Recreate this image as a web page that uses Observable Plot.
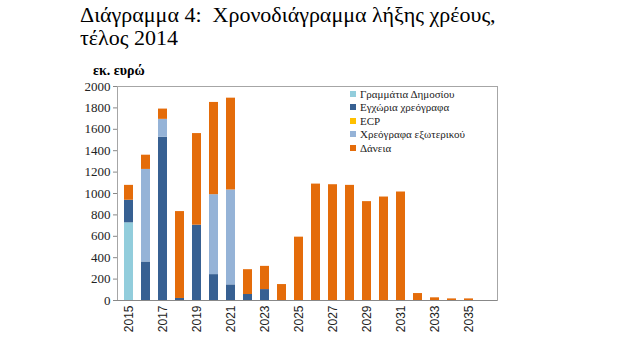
<!DOCTYPE html>
<html>
<head>
<meta charset="utf-8">
<script src="https://cdn.jsdelivr.net/npm/d3@7"></script>
<script src="https://cdn.jsdelivr.net/npm/@observablehq/plot@0.6"></script>
<style>
  body { margin: 0; background: #fff; }
  #wrap { position: relative; width: 640px; height: 350px; overflow: hidden; background: #fff; }
  #title { position: absolute; left: 80px; top: 3px; font-family: "Liberation Serif", serif; font-size: 22px; line-height: 23px; color: #000; z-index: 2; }
  #unit { position: absolute; left: 93px; top: 63px; font-family: "Liberation Serif", serif; font-size: 14px; font-weight: bold; color: #000; z-index: 2; }
  #chart { position: absolute; left: 0; top: 60px; z-index: 1; }
  #legend { position: absolute; left: 350px; top: 87px; font-family: "Liberation Serif", serif; font-size: 11px; color: #222; z-index: 2; }
  #legend .row { display: flex; align-items: center; height: 13.5px; }
  #legend .sw { width: 6px; height: 6px; margin-right: 4px; }
</style>
</head>
<body>
<div id="wrap">
  <div id="title">Διάγραμμα 4:&nbsp; Χρονοδιάγραμμα λήξης χρέους,<br>τέλος 2014</div>
  <div id="unit">εκ. ευρώ</div>
  <div id="chart"></div>
  <div id="legend"></div>
</div>
<script>
const years = [2015,2016,2017,2018,2019,2020,2021,2022,2023,2024,2025,2026,2027,2028,2029,2030,2031,2032,2033,2034,2035,2036];
const grammatia = [726,0,0,0,0,0,0,0,0,0,0,0,0,0,0,0,0,0,0,0,0,0];
const egxoria   = [211,360,1526,19,704,242,146,56,102,0,0,0,0,0,0,0,0,0,0,0,0,0];
const ecp       = [0,0,0,0,0,0,0,0,0,0,0,0,0,0,0,0,0,0,0,0,0,0];
const exoterikou= [0,865,167,0,0,747,887,0,0,0,0,0,0,0,0,0,0,0,0,0,0,0];
const daneia    = [139,133,96,812,856,862,858,232,217,149,592,1088,1082,1076,924,967,1014,65,25,15,15,0];
const seriesNames = ["Γραμμάτια Δημοσίου","Εγχώρια χρεόγραφα","ECP","Χρεόγραφα εξωτερικού","Δάνεια"];
const seriesColors = ["#92CDDC","#376092","#FFC000","#95B3D7","#E46C0A"];
const xTicks = [2015,2017,2019,2021,2023,2025,2027,2029,2031,2033,2035];
const yTicks = [0,200,400,600,800,1000,1200,1400,1600,1800,2000];

const seriesValues = [grammatia, egxoria, ecp, exoterikou, daneia];
const data = [];
years.forEach((y, i) => {
  seriesNames.forEach((s, j) => data.push({year: y, series: s, value: seriesValues[j][i]}));
});

const plot = Plot.plot({
  width: 640,
  height: 290,
  marginTop: 26,
  marginBottom: 50,
  marginLeft: 117,
  marginRight: 143,
  style: {fontFamily: "Liberation Sans, sans-serif", fontSize: "11px", color: "#222", background: "transparent"},
  x: {type: "band", domain: years, padding: 0.5, paddingOuter: 0.3, label: null},
  y: {domain: [0, 2000], label: null},
  color: {domain: seriesNames, range: seriesColors},
  marks: [
    Plot.frame({stroke: "#a6a6a6"}),
    Plot.barY(data, Plot.stackY({order: seriesNames}, {x: "year", y: "value", fill: "series", z: "series"})),
    Plot.axisX({ticks: xTicks, tickFormat: d => String(d), tickRotate: -90, tickSize: 0, tickPadding: 5, fontSize: 12, fill: "#222"}),
    Plot.axisY({ticks: yTicks, tickFormat: d => String(d), tickSize: 4, tickPadding: 3, fontFamily: "Liberation Serif, serif", fontSize: 13, fill: "#222", stroke: "#888"}),
    Plot.ruleY([0], {stroke: "#888"})
  ]
});
document.getElementById("chart").appendChild(plot);

const leg = document.getElementById("legend");
seriesNames.forEach((s, j) => {
  const row = document.createElement("div");
  row.className = "row";
  const sw = document.createElement("span");
  sw.className = "sw";
  sw.style.background = seriesColors[j];
  const t = document.createElement("span");
  t.textContent = s;
  row.appendChild(sw); row.appendChild(t);
  leg.appendChild(row);
});
</script>
</body>
</html>
